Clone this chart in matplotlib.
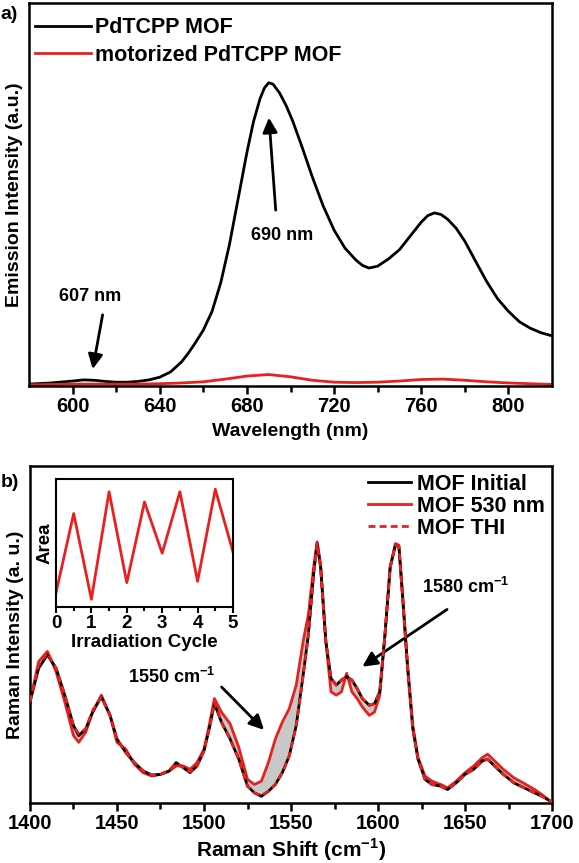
import numpy as np
import matplotlib
matplotlib.use("Agg")
import matplotlib.pyplot as plt

plt.rcParams['font.family'] = ['Liberation Sans', 'DejaVu Sans']
plt.rcParams['font.weight'] = 'bold'
plt.rcParams['mathtext.fontset'] = 'custom'
plt.rcParams['mathtext.rm'] = 'Liberation Sans'
plt.rcParams['mathtext.bf'] = 'Liberation Sans:bold'

# panel a: emission spectra
wl = [580, 590, 600, 605, 610, 615, 620, 625, 630, 635, 640, 645, 650, 653, 656,
      660, 664, 668, 672, 676, 680, 683, 686, 688, 690, 692, 695, 698, 701, 705,
      710, 715, 720, 725, 730, 733, 736, 740, 745, 750, 755, 760, 763, 766, 769,
      772, 776, 780, 785, 790, 795, 800, 805, 810, 815, 820]
pd_mof = [0.005, 0.008, 0.013, 0.016, 0.015, 0.012, 0.010, 0.010, 0.012, 0.016,
          0.023, 0.037, 0.063, 0.085, 0.110, 0.146, 0.195, 0.270, 0.370, 0.490,
          0.610, 0.690, 0.750, 0.778, 0.792, 0.788, 0.765, 0.732, 0.692, 0.629,
          0.546, 0.470, 0.407, 0.360, 0.329, 0.315, 0.308, 0.313, 0.332, 0.356,
          0.392, 0.428, 0.445, 0.452, 0.448, 0.436, 0.412, 0.378, 0.325, 0.273,
          0.228, 0.195, 0.168, 0.151, 0.139, 0.131]
wl_motor = [580, 590, 600, 610, 620, 630, 640, 650, 660, 670, 680, 690, 700,
            710, 720, 730, 740, 750, 760, 770, 780, 790, 800, 810, 820]
motor_mof = [0.003, 0.004, 0.005, 0.005, 0.005, 0.005, 0.006, 0.008, 0.011, 0.018,
             0.026, 0.030, 0.024, 0.015, 0.010, 0.009, 0.010, 0.013, 0.017, 0.018,
             0.015, 0.011, 0.008, 0.006, 0.004]

# panel b: raman spectra
shift = [1400, 1405, 1410, 1415, 1420, 1425, 1428, 1432, 1436, 1441, 1446, 1450,
         1455, 1460, 1465, 1470, 1475, 1480, 1484, 1488, 1492, 1496, 1500, 1503,
         1506, 1510, 1515, 1520, 1525, 1529, 1533, 1537, 1541, 1545, 1549, 1553,
         1557, 1560, 1563, 1565, 1567, 1570, 1573, 1576, 1579, 1582, 1585, 1588,
         1591, 1595, 1598, 1601, 1604, 1607, 1610, 1612, 1614, 1617, 1620, 1623,
         1627, 1631, 1636, 1640, 1645, 1650, 1655, 1660, 1663, 1667, 1672, 1678,
         1684, 1690, 1695, 1700]
mof_initial = [0.30, 0.40, 0.44, 0.40, 0.32, 0.23, 0.20, 0.22, 0.27, 0.315, 0.26, 0.19,
               0.15, 0.12, 0.095, 0.083, 0.085, 0.095, 0.12, 0.105, 0.09, 0.11, 0.155, 0.22,
               0.295, 0.24, 0.19, 0.13, 0.05, 0.03, 0.02, 0.035, 0.055, 0.09, 0.14, 0.23,
               0.38, 0.50, 0.68, 0.77, 0.70, 0.48, 0.37, 0.35, 0.365, 0.375, 0.365, 0.34,
               0.31, 0.29, 0.295, 0.33, 0.50, 0.70, 0.765, 0.76, 0.62, 0.40, 0.22, 0.13,
               0.07, 0.055, 0.05, 0.04, 0.06, 0.085, 0.10, 0.125, 0.13, 0.11, 0.085, 0.06,
               0.045, 0.03, 0.018, 0.003]
mof_530 = [0.30, 0.42, 0.45, 0.39, 0.30, 0.20, 0.18, 0.21, 0.27, 0.32, 0.26, 0.18,
           0.16, 0.115, 0.09, 0.08, 0.085, 0.095, 0.11, 0.11, 0.10, 0.12, 0.16, 0.23,
           0.31, 0.27, 0.235, 0.165, 0.07, 0.055, 0.065, 0.12, 0.19, 0.24, 0.28, 0.35,
           0.48, 0.56, 0.70, 0.775, 0.71, 0.48, 0.33, 0.32, 0.33, 0.385, 0.33, 0.31,
           0.285, 0.26, 0.27, 0.32, 0.50, 0.70, 0.77, 0.765, 0.63, 0.41, 0.23, 0.135,
           0.08, 0.065, 0.055, 0.045, 0.065, 0.09, 0.11, 0.135, 0.145, 0.125, 0.10, 0.075,
           0.058, 0.04, 0.022, 0.0]
mof_thi = [0.30, 0.41, 0.445, 0.40, 0.32, 0.23, 0.205, 0.22, 0.275, 0.315, 0.26, 0.19,
           0.15, 0.12, 0.095, 0.083, 0.085, 0.097, 0.118, 0.105, 0.092, 0.11, 0.155, 0.22,
           0.30, 0.24, 0.19, 0.13, 0.05, 0.03, 0.022, 0.035, 0.055, 0.09, 0.14, 0.23,
           0.38, 0.50, 0.68, 0.77, 0.70, 0.48, 0.37, 0.35, 0.365, 0.375, 0.365, 0.34,
           0.31, 0.29, 0.295, 0.33, 0.50, 0.70, 0.765, 0.76, 0.62, 0.40, 0.22, 0.13,
           0.07, 0.055, 0.05, 0.042, 0.06, 0.085, 0.10, 0.125, 0.13, 0.11, 0.085, 0.06,
           0.045, 0.03, 0.018, 0.003]

# inset: area vs irradiation cycle
cycle = [0, 0.5, 1, 1.5, 2, 2.5, 3, 3.5, 4, 4.5, 5]
area = [0.11, 0.73, 0.06, 0.90, 0.19, 0.82, 0.42, 0.90, 0.20, 0.92, 0.43]

RED = '#e8201e'
fig = plt.figure(figsize=(5.79, 8.63), dpi=100)

def style_axes(ax, lw=1.8):
    for s in ax.spines.values():
        s.set_linewidth(lw)
    ax.set_yticks([])
    ax.tick_params(axis='x', which='major', direction='out', length=6, width=lw, labelsize=14.5, pad=2)
    ax.tick_params(axis='x', which='minor', direction='out', length=4, width=lw)
    for t in ax.get_xticklabels():
        t.set_fontweight('bold')

# ---- panel a
ax1 = fig.add_axes([0.0501, 0.5527, 0.9033, 0.4438])
ax1.plot(wl, pd_mof, color='black', lw=2, label='PdTCPP MOF')
ax1.plot(wl_motor, motor_mof, color=RED, lw=2, label='motorized PdTCPP MOF')
ax1.set_xlim(580, 820)
ax1.set_ylim(0, 1)
ax1.set_xticks([600, 640, 680, 720, 760, 800])
ax1.set_xticks([620, 660, 700, 740, 780], minor=True)
style_axes(ax1)
ax1.set_xlabel('Wavelength (nm)', fontsize=14, fontweight='bold', labelpad=5)
ax1.set_ylabel('Emission Intensity (a.u.)', fontsize=14, fontweight='bold', labelpad=4)
ax1.legend(loc='upper left', bbox_to_anchor=(0.0, 0.98), frameon=False,
           prop={'size': 15.5, 'weight': 'bold'},
           handlelength=2.6, handletextpad=0.15, labelspacing=0.3,
           borderaxespad=0.1, borderpad=0.2)
ax1.annotate('', xy=(690, 0.708), xytext=(693.3, 0.452),
             arrowprops=dict(arrowstyle='-|>', color='black', lw=2, mutation_scale=22))
ax1.text(696, 0.394, '690 nm', ha='center', va='center', fontsize=13, fontweight='bold')
ax1.annotate('', xy=(609, 0.037), xytext=(614, 0.193),
             arrowprops=dict(arrowstyle='-|>', color='black', lw=2, mutation_scale=22))
ax1.text(608, 0.235, '607 nm', ha='center', va='center', fontsize=13, fontweight='bold')
fig.text(0.016, 0.983, 'a)', fontsize=14, fontweight='bold', ha='center', va='center')

# ---- panel b
ax2 = fig.add_axes([0.0518, 0.0695, 0.9016, 0.3905])
ax2.fill_between(shift, mof_initial, mof_530, color='#c8c8c8', lw=0, zorder=1)
ax2.plot(shift, mof_initial, color='black', lw=2, label='MOF Initial', zorder=3)
ax2.plot(shift, mof_530, color=RED, lw=2, label='MOF 530 nm', zorder=2)
ax2.plot(shift, mof_thi, color=RED, lw=2, ls=(0, (2.5, 1.5)), label='MOF THI', zorder=4)
ax2.set_xlim(1400, 1700)
ax2.set_ylim(0, 1)
ax2.set_xticks([1400, 1450, 1500, 1550, 1600, 1650, 1700])
ax2.set_xticks([1425, 1475, 1525, 1575, 1625, 1675], minor=True)
style_axes(ax2)
ax2.set_xlabel('Raman Shift (cm$^{\\mathbf{-1}}$)', fontsize=15, fontweight='bold', labelpad=2)
ax2.set_ylabel('Raman Intensity (a. u.)', fontsize=14, fontweight='bold', labelpad=4)
ax2.legend(loc='upper right', frameon=False, prop={'size': 15.5, 'weight': 'bold'},
           handlelength=2.0, handletextpad=0.25, labelspacing=0.05,
           borderaxespad=0.15, borderpad=0.2)
ax2.annotate('', xy=(1589.7, 0.40), xytext=(1641, 0.579),
             arrowprops=dict(arrowstyle='-|>', color='black', lw=2, mutation_scale=22))
ax2.text(1650.6, 0.641, '1580 cm$^{\\mathbf{-1}}$', ha='center', va='center', fontsize=13, fontweight='bold')
ax2.annotate('', xy=(1535.6, 0.211), xytext=(1509, 0.35),
             arrowprops=dict(arrowstyle='-|>', color='black', lw=2, mutation_scale=22))
ax2.text(1481.6, 0.374, '1550 cm$^{\\mathbf{-1}}$', ha='center', va='center', fontsize=13, fontweight='bold')
fig.text(0.017, 0.441, 'b)', fontsize=14, fontweight='bold', ha='center', va='center')

# ---- inset
ax3 = fig.add_axes([0.0967, 0.2967, 0.3057, 0.1483])
ax3.plot(cycle, area, color=RED, lw=2)
ax3.set_xlim(0, 5)
ax3.set_ylim(0, 1)
ax3.set_xticks([0, 1, 2, 3, 4, 5])
ax3.set_xticks([0.5, 1.5, 2.5, 3.5, 4.5], minor=True)
style_axes(ax3, lw=1.5)
ax3.tick_params(axis='x', which='major', labelsize=13.5, length=4)
ax3.tick_params(axis='x', which='minor', length=3)
ax3.set_xlabel('Irradiation Cycle', fontsize=13.5, fontweight='bold', labelpad=1)
ax3.set_ylabel('Area', fontsize=13.5, fontweight='bold', labelpad=2)

fig.savefig('out.png', dpi=100)
